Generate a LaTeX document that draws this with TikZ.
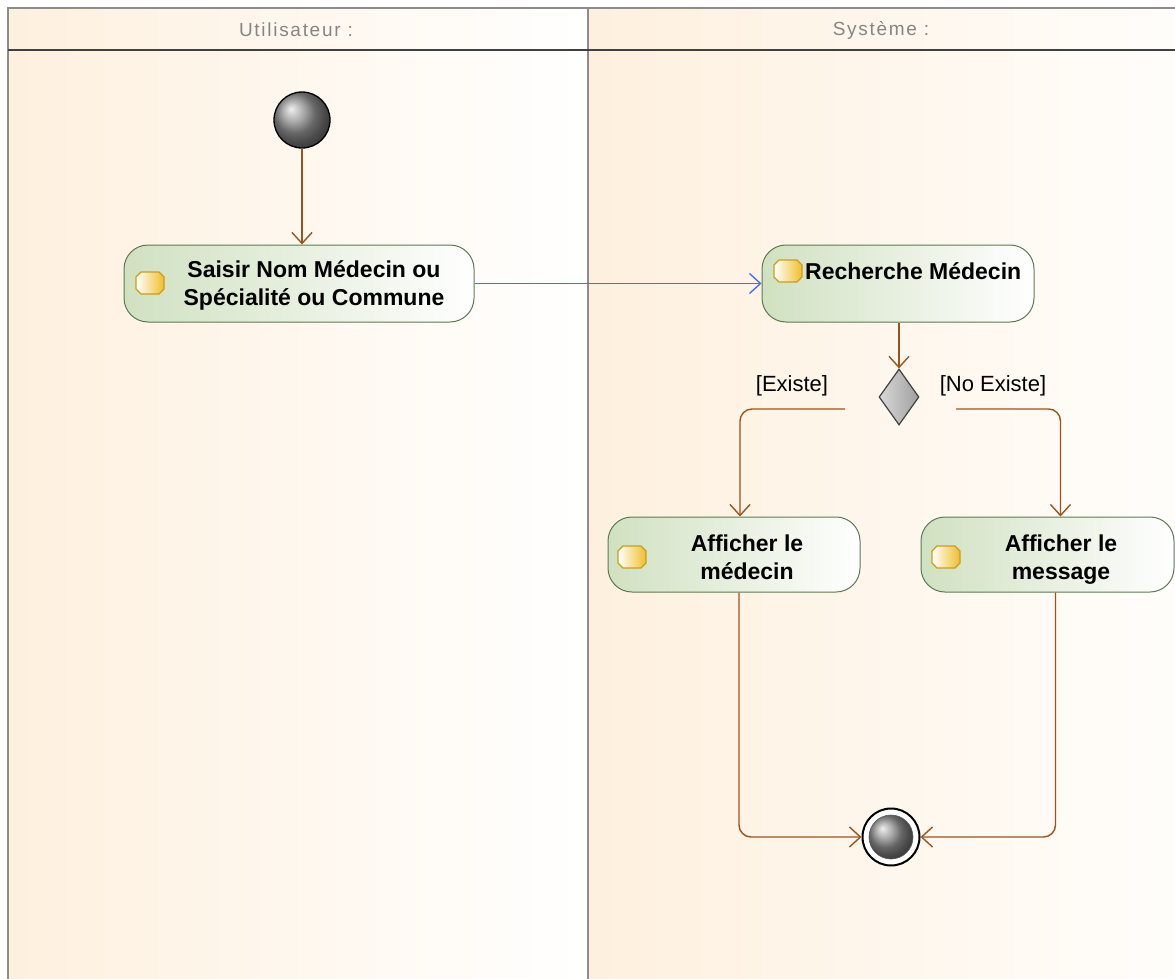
\documentclass[tikz,border=0pt]{standalone}
\usepackage{fontspec}
\setmainfont{Liberation Sans}
\newfontfamily\hdrfont[LetterSpace=9]{Liberation Sans}
\usetikzlibrary{arrows.meta,shapes.geometric}

\definecolor{laneOrange}{HTML}{FEF0DE}
\definecolor{actGreen}{HTML}{D0E1C1}
\definecolor{actBorder}{HTML}{5E7A52}
\definecolor{flowBrown}{HTML}{96561E}
\definecolor{flowBlue}{HTML}{4A6CF5}
\definecolor{iconYellow}{HTML}{F0BE2A}
\definecolor{iconBorder}{HTML}{C99E1C}
\definecolor{hdrText}{HTML}{858585}
\definecolor{laneLine}{HTML}{8C8C8C}
\definecolor{hdrLine}{HTML}{404040}

\tikzset{
  actbox/.style={rectangle, rounded corners=24pt, draw=actBorder, line width=1pt,
    left color=actGreen, middle color=actGreen!65!white, right color=white, inner sep=0pt},
  acttext/.style={font=\fontsize{23}{28}\selectfont\bfseries, align=center, inner sep=0pt},
  flow/.style={draw=flowBrown, line width=1.4pt, -{Straight Barb[length=11pt,width=20pt]}},
  flowblue/.style={draw=flowBlue, line width=1.4pt, -{Straight Barb[length=11pt,width=20pt]}},
  guard/.style={font=\fontsize{22}{26}\selectfont, inner sep=0pt},
  lanehdr/.style={font=\hdrfont\fontsize{19}{22}\selectfont, text=hdrText, inner sep=0pt},
  % octagonal action marker
  pics/acticon/.style={code={
    \draw[draw=iconBorder, line width=1.1pt, left color=white, right color=iconYellow]
      (-9,-11) -- (9,-11) -- (14,-6) -- (14,6) -- (9,11) -- (-9,11) -- (-14,6) -- (-14,-6) -- cycle;
  }},
}

\begin{document}
\begin{tikzpicture}[x=1pt,y=-1pt]
\useasboundingbox (0,0) rectangle (1175,979);
\fill[white] (0,0) rectangle (1175,979);

% swimlanes
\begin{scope}
  \clip (0,0) rectangle (1175,979);
  \shade[left color=laneOrange, right color=white] (8,8) rectangle (588,979);
  \shade[left color=laneOrange, right color=white] (588,8) rectangle (1260,979);
  \draw[laneLine, line width=1.2pt] (8,979) -- (8,8) -- (1175,8);
  \draw[laneLine, line width=1.4pt] (588,8) -- (588,979);
  \draw[hdrLine, line width=1.8pt] (8,50) -- (1175,50);
\end{scope}
\node[lanehdr] (h1) at (296,30) {Utilisateur :};
\node[lanehdr] (h2) at (881,30) {Système :};

% initial node
\node[circle, minimum size=56pt, inner sep=0pt, draw=black, line width=1.3pt,
      shading=ball, ball color=gray!85] (init) at (302,120) {};

% actions
\node[actbox, minimum width=350pt, minimum height=77pt] (a1) at (299,283.5) {};
\pic at (150,283) {acticon};
\node[acttext] (t1) at (314,285) {Saisir Nom Médecin ou\\Spécialité ou Commune};

\node[actbox, minimum width=272pt, minimum height=77pt] (a2) at (898,283.5) {};
\pic at (788,271) {acticon};
\node[acttext, anchor=west] (t2) at (805,271) {Recherche Médecin};

\node[actbox, minimum width=252pt, minimum height=75pt] (a3) at (734,554.5) {};
\pic at (632,557) {acticon};
\node[acttext] (t3) at (747,557) {Afficher le\\médecin};

\node[actbox, minimum width=253pt, minimum height=75pt] (a4) at (1047.5,554.5) {};
\pic at (946,557) {acticon};
\node[acttext] (t4) at (1061,560) {Afficher le\\message};

% decision
\node[diamond, minimum width=40pt, minimum height=56pt, inner sep=0pt, aspect=0.7,
      draw=hdrLine, line width=1.2pt, left color=gray!30, right color=gray!75] (dec) at (899,397) {};
\node[guard] (g1) at (792,386) {[Existe]};
\node[guard] (g2) at (993,386) {[No Existe]};

% final node
\node[circle, minimum size=57pt, inner sep=0pt, draw=black, line width=2pt, fill=white] (fin) at (891,837) {};
\node[circle, minimum size=44pt, inner sep=0pt, draw=gray!70!black, line width=0.6pt,
      shading=ball, ball color=gray!85] (finc) at (fin) {};

% control flows
\coordinate (eL) at (845,409);
\coordinate (eR) at (956,409);
\draw[flow] (init.south) -- (init.south |- a1.north);
\draw[flowblue] (a1.east) -- (a2.west);
\draw[flow] ([xshift=1pt]a2.south) -- (dec.north);
\draw[flow, rounded corners=12pt] (eL) -| ([xshift=6pt]a3.north);
\draw[flow, rounded corners=12pt] (eR) -| ([xshift=13pt]a4.north);
\draw[flow, rounded corners=12pt] ([xshift=5pt]a3.south) |- (fin.west);
\draw[flow, rounded corners=12pt] ([xshift=8pt]a4.south) |- (fin.east);
\end{tikzpicture}
\end{document}
